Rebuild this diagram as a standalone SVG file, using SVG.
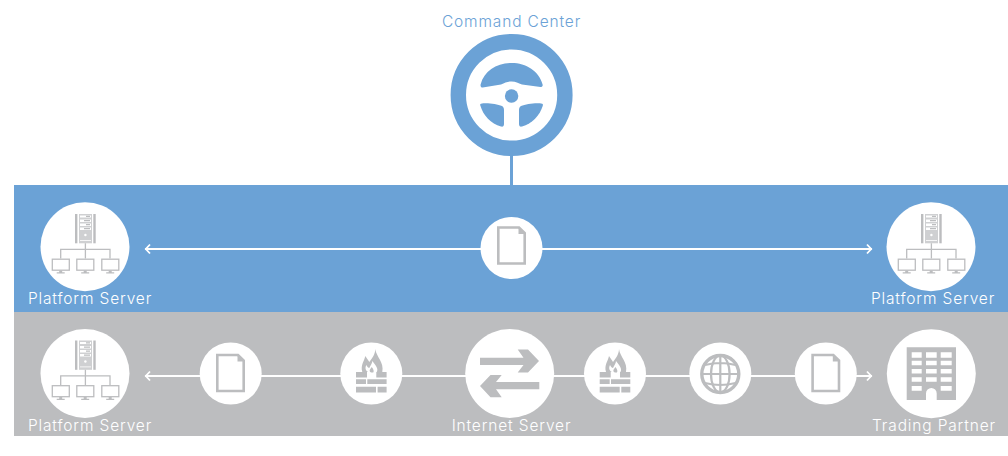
<svg xmlns="http://www.w3.org/2000/svg" width="1008" height="456" viewBox="0 0 1008 456">
<style>
.lbl{font-family:"Inter","Liberation Sans",sans-serif;font-size:15.5px;font-weight:300;letter-spacing:.85px;text-anchor:middle;fill:#fff}
.w{fill:#fff}.g{fill:#bcbdbf}.b{fill:#6ba2d6}.l{fill:#cfd0d2}
.ln{stroke:#fff;stroke-width:2;fill:none}
.gs{stroke:#bcbdbf;fill:none}
.chev{stroke:#fff;stroke-width:1.8;fill:none}
</style>
<defs>
<g id="server">
<rect x="-10" y="-33" width="2.400" height="29.300" class="g"/>
<rect x="8.300" y="-33" width="2.400" height="29.300" class="g"/>
<rect x="-6" y="-33" width="13" height="29.300" class="l"/>
<path class="w" d="M-5-31.500h11v2h-11zM-5-27.500h11v2.500h-11zM-5-23.500h11v2.500h-11zM-5-19.500h11v2.500h-11z"/>
<path class="g" d="M1-31.200h4v1.200h-4zM-1-27h6v1.200h-6zM1-23h4v1.200h-4zM-1-19h6v1.200h-6z"/>
<circle cx=".4" cy="-12" r="1.200" class="w"/>
<path class="w" d="M-5-7h11v.8h-11z"/>
<path class="gs" stroke-width="1.300" d="M.4-3.700V11.500M-24.300 11.500V2.300H25V11.500"/>
<g id="mon"><rect x="-32.700" y="12.200" width="17" height="11" class="gs" stroke-width="1.300"/><path class="g" d="M-25.800 23.500h3v1.800h2.500v1.300h-8v-1.300h2.500z"/></g>
<use href="#mon" x="24.500"/>
<use href="#mon" x="49.500"/>
</g>
<g id="doc">
<path d="M-13.200-18H7.500L13.200-12.500V18H-13.200Z" class="gs" stroke-width="2.600"/>
<path d="M7-18.500V-11.500H14Z" class="g"/>
</g>
<g id="fire">
<path class="g" d="M4-26C5-18 13-13 11-3H-9C-11-10-7-14-6-19C-4-16-3-15-2-13C1-17 4-21 4-26Z"/>
<path class="w" d="M-1-2.500C-5-3-7-6-5-10C-4-8-3-7-2-7C-1-9 1-12 1-14C4-10 8-6 5-2.500Z"/>
<path class="g" d="M0-2.500C-2-3-2-5-1-6L.5-8C2-6 3-4 2-2.500Z"/>
<path class="g" d="M-15.300-3h11v5.500h-11zM5-3h10.300v5.500h-10.300zM-15.300 4.300h10v4.700h-10zM-4 4.300h19.300v4.700h-19.300zM-15.300 11.700h20v5.800h-20zM6.300 11.700h9v5.800h-9z"/>
</g>
<g id="chevL"><path d="M5-4.500L.8 0L5 4.500" class="chev"/></g>
<g id="chevR"><path d="M-5-4.500L-.8 0L-5 4.500" class="chev"/></g>
</defs>
<rect x="14" y="185" width="994" height="127" class="b"/>
<rect x="14" y="312" width="994" height="124" class="g"/>
<g id="connectors">
<path d="M511.500 155V185" stroke="#6ba2d6" stroke-width="3" fill="none"/>
<path class="ln" d="M145 249H872"/>
<use href="#chevL" x="145" y="249"/><use href="#chevR" x="872" y="249"/>
<path class="ln" d="M145 376H872"/>
<use href="#chevL" x="145" y="376"/><use href="#chevR" x="872" y="376"/>
</g>
<g id="command-center">
<text x="511.500" y="27" class="lbl" style="fill:#6ba2d6">Command Center</text>
<circle cx="511.600" cy="95" r="53.300" fill="#fff" stroke="#6ba2d6" stroke-width="15.400"/>
<path class="b" d="M480.600 84.500C484 71 497 63 511.600 63S539 71 542.600 84.500C543 86 542 87 540.500 87L522 84.500C518 83 516 81.500 511.600 81.500S505 83 501 84.500L482.700 87.500C481 87.500 480.300 86 480.600 84.500Z"/>
<circle cx="511.600" cy="96" r="6.700" class="b"/>
<path class="b" d="M481 103.800C486 102.500 497 104 502 106C503.500 107 504 108 504 110V124C504 126 503 127 501 126.500C491 124 483 115 480.500 106C480 105 480 104 481 103.800Z"/>
<path class="b" d="M542.200 103.800C537 102.500 526 104 521 106C519.500 107 519 108 519 110V124C519 126 520 127 522 126.500C532 124 540 115 542.700 106C543 105 543 104 542.200 103.800Z"/>
</g>
<g id="platform-server-top-left"><circle cx="85" cy="246.700" r="44.500" class="w"/><use href="#server" x="85" y="247"/><text x="90" y="304" class="lbl">Platform Server</text></g>
<g id="document-top"><circle cx="511.500" cy="248" r="31" class="w"/><use href="#doc" x="511.500" y="245.500"/></g>
<g id="platform-server-top-right"><circle cx="931" cy="246.700" r="44.500" class="w"/><use href="#server" x="931" y="247"/><text x="933" y="304" class="lbl">Platform Server</text></g>
<g id="platform-server-bottom"><circle cx="85" cy="373.500" r="44.500" class="w"/><use href="#server" x="85" y="373.500"/><text x="90" y="431" class="lbl">Platform Server</text></g>
<g id="document-left"><circle cx="230.700" cy="373.500" r="31" class="w"/><use href="#doc" x="230.500" y="373"/></g>
<g id="firewall-left"><circle cx="371.300" cy="373.500" r="31" class="w"/><use href="#fire" x="371.300" y="375"/></g>
<g id="internet-server"><circle cx="509.700" cy="373.500" r="44.500" class="w"/>
<path class="g" d="M480 357.700H523.500L517.700 349.500H528L539 361L528 372.500H517.700L523.500 365H480Z"/>
<path class="g" d="M539.300 382H496L501.700 375H490.500L480 386L490.500 397.300H501.700L496 389.300H539.300Z"/>
<text x="511.500" y="431" class="lbl">Internet Server</text></g>
<g id="firewall-right"><circle cx="615" cy="373.500" r="31" class="w"/><use href="#fire" x="615" y="375"/></g>
<g id="globe"><circle cx="720.300" cy="373.500" r="31" class="w"/>
<circle cx="720.300" cy="374" r="18.500" class="gs" stroke-width="3.400"/>
<ellipse cx="720.300" cy="374" rx="9.300" ry="18.500" class="gs" stroke-width="2.200"/>
<path class="gs" stroke-width="2.200" d="M720.300 355.500V392.500M701.800 374H738.800M705 365Q720.300 361 735.600 365M705 383Q720.300 387 735.600 383"/></g>
<g id="document-right"><circle cx="825.800" cy="373.500" r="31" class="w"/><use href="#doc" x="825.800" y="373"/></g>
<g id="trading-partner"><circle cx="931.300" cy="373.700" r="44.500" class="w"/>
<path class="g" d="M906.700 347.300H956V400H936.700V393.400A5.350 5.350 0 0 0 926 393.400V400H906.700Z"/>
<path class="w" d="M911.700 352.300h10v5.400h-10zM926 352.300h10.700v5.400h-10.700zM940.700 352.300h11v5.400h-11zM911.700 360.700h10v4.500h-10zM926 360.700h10.700v4.500h-10.700zM940.700 360.700h11v4.500h-11zM911.700 369h10v4.500h-10zM926 369h10.700v4.500h-10.700zM940.700 369h11v4.500h-11zM911.700 377.300h10v4.500h-10zM926 377.300h10.700v4.500h-10.700zM940.700 377.300h11v4.500h-11zM911.700 386h10v4.700h-10zM940.700 386h11v4.700h-11z"/>
<text x="934" y="431" class="lbl">Trading Partner</text></g>
</svg>
